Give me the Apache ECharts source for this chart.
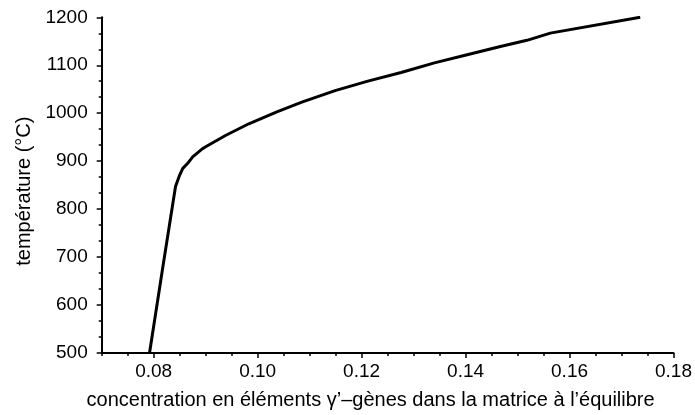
<!DOCTYPE html>
<html>
<head>
<meta charset="utf-8">
<script src="https://cdn.jsdelivr.net/npm/echarts@6/dist/echarts.min.js"></script>
<style>html,body{margin:0;padding:0;background:#fff}#c{width:695px;height:415px}</style>
</head>
<body>
<div id="c"></div>
<script>
// Data
const concentration = [0.0792, 0.0818, 0.0842, 0.0850, 0.0856, 0.0865, 0.0875, 0.0894, 0.0900, 0.0939, 0.0983, 0.1037, 0.1085, 0.1149, 0.1212, 0.1276, 0.1340, 0.1403, 0.1467, 0.1518, 0.1563, 0.1736];
const temperature   = [500,    682,    847,    871,    885,    895,    909,    926,    930,    954,    978,    1003,   1023,   1047,   1067,   1085,   1105,   1122,   1139,   1152,   1167,   1200];
const xTickLabels = [0.08, 0.10, 0.12, 0.14, 0.16, 0.18];
const yTickLabels = [500, 600, 700, 800, 900, 1000, 1100, 1200];
const xTitle = 'concentration en éléments γ’–gènes dans la matrice à l’équilibre';
const yTitle = 'température (°C)';

const chart = echarts.init(document.getElementById('c'), null, {renderer: 'canvas'});
const font = 'Liberation Sans, Arial, Helvetica, sans-serif';
const points = concentration.map((x, i) => [x, temperature[i]]);

chart.setOption({
  animation: false,
  backgroundColor: '#fff',
  grid: {left: 101.7, right: 17.3, top: 17.3, bottom: 58.3, containLabel: false},
  xAxis: [{
    type: 'value', min: 0.07, max: 0.18,
    splitLine: {show: false},
    axisLine: {lineStyle: {color: '#000', width: 2}},
    axisTick: {show: true, length: 5, lineStyle: {color: '#000', width: 1.5}, customValues: xTickLabels},
    axisLabel: {color: '#000', fontSize: 19, fontFamily: font, margin: 9,
      customValues: xTickLabels, formatter: v => v.toFixed(2)},
    name: xTitle, nameLocation: 'middle', nameGap: 37,
    nameTextStyle: {color: '#000', fontSize: 20, fontFamily: font, padding: [0, 34, 0, 0]}
  }, {
    type: 'value', min: 0.07, max: 0.18, interval: 0.005, position: 'bottom',
    splitLine: {show: false},
    axisLine: {show: false},
    axisTick: {show: true, length: 3, lineStyle: {color: '#000', width: 1.5}},
    axisLabel: {show: false}
  }],
  yAxis: {
    type: 'value', min: 500, max: 1200, interval: 100,
    splitLine: {show: false},
    axisLine: {show: true, lineStyle: {color: '#000', width: 2}},
    axisTick: {show: true, length: 5, lineStyle: {color: '#000', width: 1.5}},
    minorTick: {show: true, splitNumber: 3, length: 3, lineStyle: {color: '#000', width: 1.5}},
    axisLabel: {color: '#000', fontSize: 19, fontFamily: font, margin: 14,
      customValues: yTickLabels, formatter: v => String(v)},
    name: yTitle, nameLocation: 'middle', nameGap: 67,
    nameTextStyle: {color: '#000', fontSize: 20, fontFamily: font, padding: [0, 12, 0, 0]}
  },
  series: [{
    type: 'line', xAxisIndex: 0, data: points, showSymbol: false, smooth: false,
    lineStyle: {color: '#000', width: 3}
  }]
});
</script>
</body>
</html>
